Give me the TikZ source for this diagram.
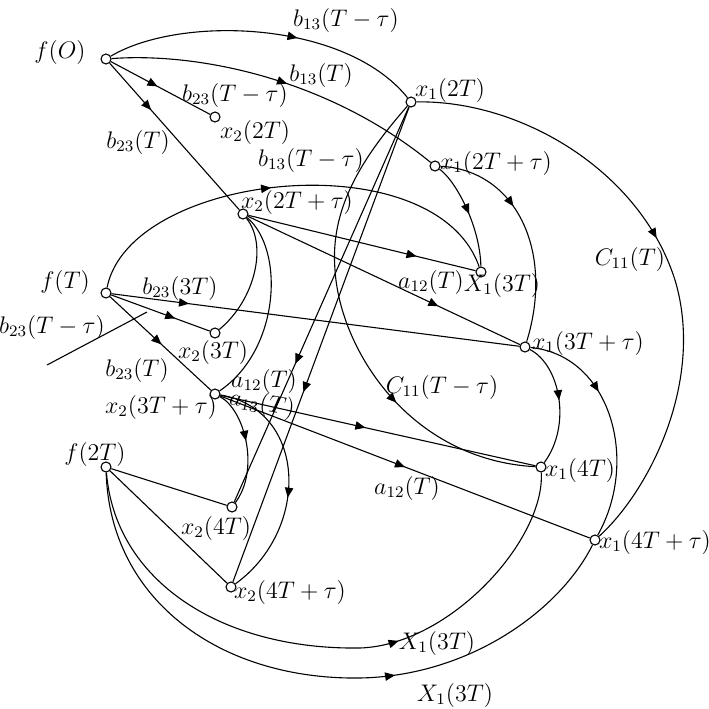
\documentclass[tikz,border=0pt]{standalone}
\usetikzlibrary{arrows.meta,decorations.markings}
\begin{document}
\begin{tikzpicture}[x=0.5pt,y=-0.5pt,
  every node/.style={font=\fontsize{11.5}{14}\selectfont},
  pt/.style={circle,draw,fill=white,inner sep=0pt,minimum size=5pt,line width=0.55pt},
  lbl/.style={inner sep=0pt},
  ln/.style={line width=0.55pt},
  arr/.style={postaction={decorate,decoration={markings,mark=at position #1 with {\arrow{Triangle[length=5pt,width=4.2pt]}}}}},
]
\useasboundingbox (0,0) rectangle (709,709);
% nodes
\node[pt] (fO) at (106,59) {};
\node[pt] (x22T) at (215,117) {};
\node[pt] (x12T) at (411,102) {};
\node[pt] (x12Tt) at (435,166) {};
\node[pt] (x22Tt) at (243,214) {};
\node[pt] (X13T) at (481,272) {};
\node[pt] (fT) at (106,293) {};
\node[pt] (x23T) at (215,333) {};
\node[pt] (x13Tt) at (525,347) {};
\node[pt] (x23Tt) at (215,394) {};
\node[pt] (x14T) at (541,467) {};
\node[pt] (f2T) at (106,467) {};
\node[pt] (x24T) at (232,507) {};
\node[pt] (x24Tt) at (231,587) {};
\node[pt] (x14Tt) at (595,540) {};
% node labels
\node[lbl] (LfO) at (60,52) {$f(O)$};
\node[lbl] (Lx22T) at (255,132) {$x_2(2T)$};
\node[lbl] (Lx12T) at (450,90) {$x_1(2T)$};
\node[lbl] (Lx12Tt) at (496,163) {$x_1(2T+\tau)$};
\node[lbl] (Lx22Tt) at (297,202) {$x_2(2T+\tau)$};
\node[lbl] (LX13T) at (502,285) {$X_1(3T)$};
\node[lbl] (LfT) at (65,282) {$f(T)$};
\node[lbl] (Lx23T) at (213,352) {$x_2(3T)$};
\node[lbl] (Lx13Tt) at (588,343) {$x_1(3T+\tau)$};
\node[lbl] (Lx23Tt) at (161,407) {$x_2(3T+\tau)$};
\node[lbl] (Lx14T) at (580,470) {$x_1(4T)$};
\node[lbl] (Lf2T) at (95,454) {$f(2T)$};
\node[lbl] (Lx24T) at (216,528) {$x_2(4T)$};
\node[lbl] (Lx24Tt) at (290,592) {$x_2(4T+\tau)$};
\node[lbl] (Lx14Tt) at (655,542) {$x_1(4T+\tau)$};
% branch labels
\node[lbl] (g1) at (346,20) {$b_{13}(T-\tau)$};
\node[lbl] (g2) at (321,75) {$b_{13}(T)$};
\node[lbl] (g3) at (235,95) {$b_{23}(T-\tau)$};
\node[lbl] (g4) at (138,142) {$b_{23}(T)$};
\node[lbl] (g5) at (311,160) {$b_{13}(T-\tau)$};
\node[lbl] (g6) at (431,282) {$a_{12}(T)$};
\node[lbl] (g7) at (630,259) {$C_{11}(T)$};
\node[lbl] (g8) at (442,387) {$C_{11}(T-\tau)$};
\node[lbl] (g9) at (180,288) {$b_{23}(3T)$};
\node[lbl] (g10) at (52,327) {$b_{23}(T-\tau)$};
\node[lbl] (g11) at (137,370) {$b_{23}(T)$};
\node[lbl] (g12) at (264,381) {$a_{12}(T)$};
\node[lbl,rotate=-10] (g13) at (262,404) {$a_{13}(T)$};
\node[lbl] (g14) at (407,488) {$a_{12}(T)$};
\node[lbl] (g15) at (437,643) {$X_1(3T)$};
\node[lbl] (g16) at (455,695) {$X_1(3T)$};
% connectors
\draw[ln,arr=0.6] (fO) .. controls (180,15) and (345,20) .. (x12T);
\draw[ln,arr=0.52] (fO) .. controls (200,52) and (330,80) .. (x12Tt);
\draw[ln,arr=0.47] (fO) -- (x22T);
\draw[ln,arr=0.32] (fO) -- (x22Tt);
\draw[ln,arr=0.46] (fT) .. controls (130,172) and (435,140) .. (X13T);
\draw[ln,arr=0.5] (x12Tt) .. controls (455,180) and (480,225) .. (X13T);
\draw[ln,arr=0.38] (x12Tt) .. controls (515,170) and (555,250) .. (x13Tt);
\draw[ln,arr=0.74] (x22Tt) -- (X13T);
\draw[ln,arr=0.7] (x22Tt) -- (x13Tt);
\draw[ln] (x22Tt) .. controls (268,245) and (255,300) .. (x23T);
\draw[ln] (x22Tt) .. controls (285,250) and (280,350) .. (x23Tt);
\draw[ln,arr=0.65] (x12T) -- (x24T);
\draw[ln,arr=0.6] (x12T) -- (x24Tt);
\draw[ln,arr=0.68] (x12T) .. controls (360,160) and (330,210) .. (335,270) .. controls (340,350) and (410,460) .. (x14T);
\draw[ln,arr=0.47] (x12T) .. controls (520,100) and (640,170) .. (675,280) .. controls (705,380) and (650,490) .. (x14Tt);
\draw[ln,arr=0.19] (fT) -- (x13Tt);
\draw[ln,arr=0.65] (fT) -- (x23T);
\draw[ln,arr=0.51] (fT) -- (x23Tt);
\coordinate (d1) at (47,365);
\coordinate (d2) at (147,312);
\draw[ln] (d1) -- (d2);
\draw[ln,arr=0.48] (x13Tt) .. controls (560,365) and (572,425) .. (x14T);
\draw[ln,arr=0.36] (x13Tt) .. controls (610,355) and (640,460) .. (x14Tt);
\draw[ln,arr=0.46] (x23Tt) -- (x14T);
\draw[ln,arr=0.5] (x23Tt) -- (x14Tt);
\draw[ln,arr=0.45] (x23Tt) .. controls (245,410) and (260,470) .. (x24T);
\draw[ln,arr=0.57] (x23Tt) .. controls (308,410) and (310,530) .. (x24Tt);
\draw[ln] (f2T) -- (x24T);
\draw[ln] (f2T) -- (x24Tt);
\draw[ln,arr=0.62] (f2T) .. controls (115,580) and (220,650) .. (360,648) .. controls (450,645) and (545,540) .. (x14T);
\draw[ln,arr=0.62] (f2T) .. controls (110,600) and (220,680) .. (360,678) .. controls (470,676) and (560,610) .. (x14Tt);
\end{tikzpicture}
\end{document}
